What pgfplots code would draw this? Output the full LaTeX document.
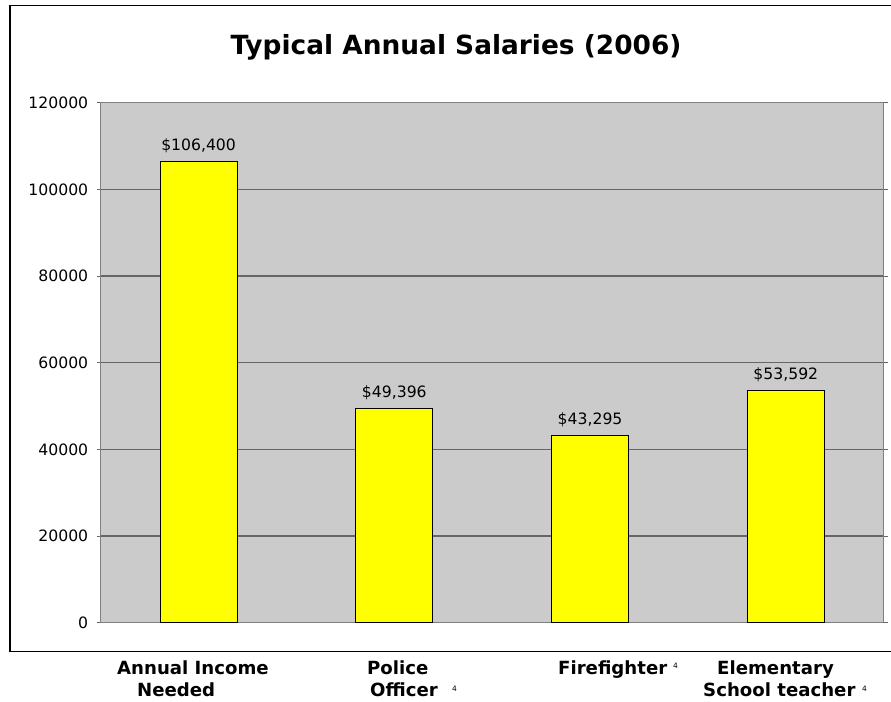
\documentclass[border=0pt]{standalone}
\usepackage{fontspec}
\setmainfont{DejaVu Sans}
\usepackage{pgfplots}
\pgfplotsset{compat=1.18}
\definecolor{plotgray}{HTML}{CBCBCB}
\definecolor{gridgray}{HTML}{666666}
\definecolor{baryellow}{RGB}{255,255,0}
\begin{document}
\begin{tikzpicture}
\path[use as bounding box] (0bp,0bp) rectangle (891bp,702bp);
\draw[line width=1.5bp] (10bp,50.3bp) rectangle (900bp,696.3bp);
\node[font=\fontsize{26.5}{30}\selectfont\bfseries, anchor=base] at (456bp,647bp) {Typical Annual Salaries (2006)};
\begin{axis}[
    at={(100.7bp,79.3bp)}, anchor=south west,
    scale only axis, width=783bp, height=520bp,
    xmin=-0.5, xmax=3.5, ymin=0, ymax=120000,
    ybar, bar width=77bp,
    axis background/.style={fill=plotgray},
    axis line style={draw=gray, line width=1.2bp},
    xtick=\empty,
    ytick={0,20000,40000,60000,80000,100000,120000},
    scaled y ticks=false,
    ymajorgrids, grid style={gridgray, line width=1.3bp},
    tick align=outside, major tick length=4bp,
    ytick style={gridgray, line width=1bp},
    /pgf/number format/assume math mode=true,
    yticklabel style={font=\fontsize{15.7}{18}\selectfont, xshift=-5bp,
        /pgf/number format/fixed, /pgf/number format/1000 sep={}},
    nodes near coords, point meta=explicit symbolic,
    nodes near coords style={font=\fontsize{15.7}{18}\selectfont, inner sep=0pt, yshift=8bp},
    clip=false,
]
\addplot[fill=baryellow, draw=black, line width=0.9bp] coordinates {
    (0,106400) [\$106,400]
    (1,49396) [\$49,396]
    (2,43295) [\$43,295]
    (3,53592) [\$53,592]
};
\end{axis}
\begin{scope}[every node/.style={font=\fontsize{18.2}{20}\selectfont\bfseries, anchor=base west, inner sep=0pt}]
\node at (117bp,28bp) {Annual Income};
\node at (137bp,6bp) {Needed};
\node at (367bp,28bp) {Police};
\node at (370bp,6bp) {Officer};
\node at (558bp,28bp) {Firefighter};
\node at (717bp,28bp) {Elementary};
\node at (703bp,6bp) {School teacher};
\end{scope}
\begin{scope}[every node/.style={font=\fontsize{7.5}{8}\selectfont, anchor=base west, inner sep=0pt}]
\node at (452bp,11bp) {4};
\node at (673bp,34bp) {4};
\node at (862bp,11bp) {4};
\end{scope}
\end{tikzpicture}
\end{document}
